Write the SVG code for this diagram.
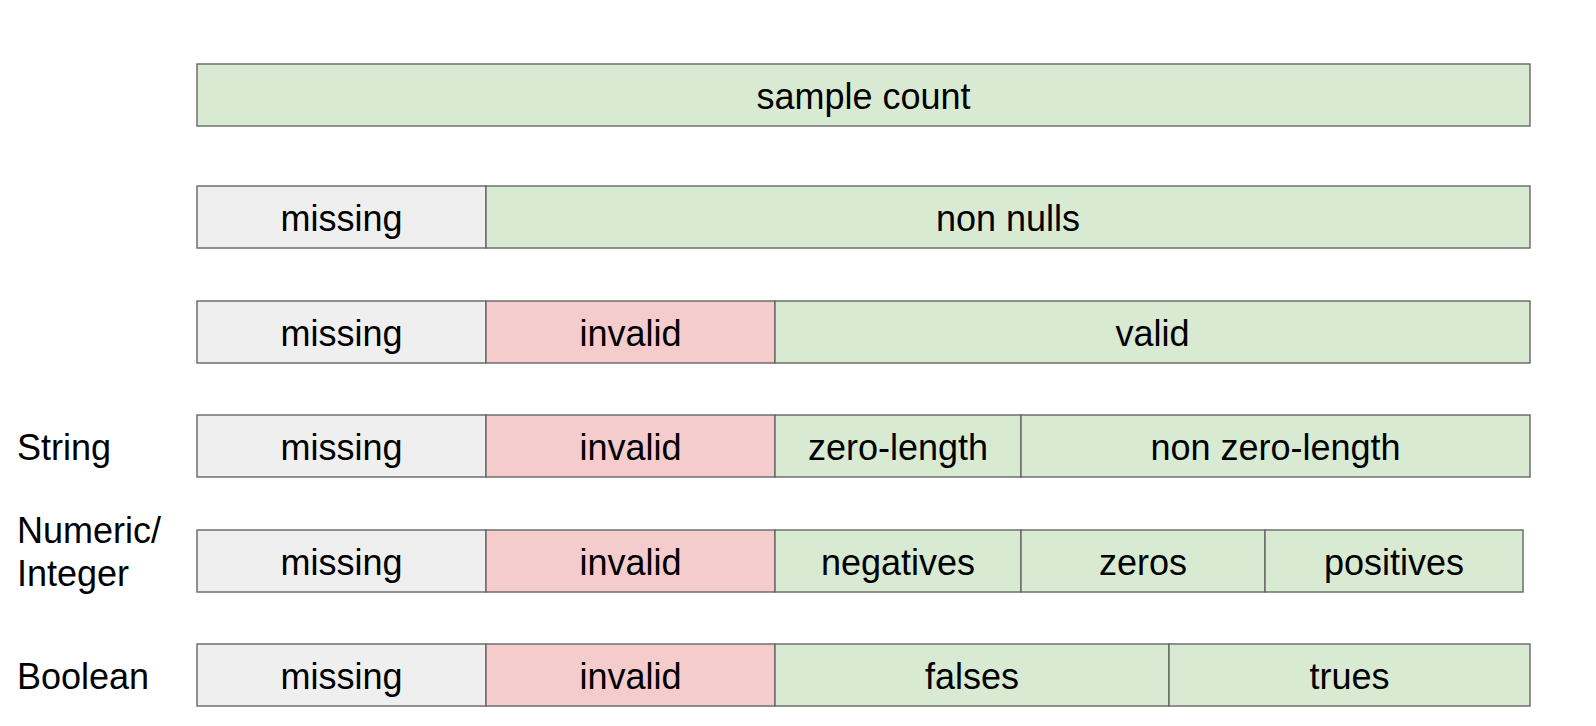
<svg xmlns="http://www.w3.org/2000/svg" width="1596" height="726" viewBox="0 0 1596 726">
  <style>
    .cell { stroke: #666666; stroke-width: 1.4; }
    .ok { fill: #d9ead3; }
    .miss { fill: #efefef; }
    .bad { fill: #f4cccc; }
    text { font-family: "Liberation Sans", Arial, sans-serif; font-size: 36px; fill: #000000; }
    .c { text-anchor: middle; }
  </style>
  <rect x="0" y="0" width="1596" height="726" fill="#ffffff"/>

  <!-- row labels -->
  <g id="label-string"><text x="17" y="460">String</text></g>
  <g id="label-numeric"><text x="17" y="543">Numeric/</text><text x="17" y="586">Integer</text></g>
  <g id="label-boolean"><text x="17" y="689">Boolean</text></g>

  <!-- row 1: total -->
  <g id="sample-count"><rect class="cell ok" x="197" y="64" width="1333" height="62"/><text class="c" x="863.5" y="109">sample count</text></g>

  <!-- row 2 -->
  <g id="r2-missing"><rect class="cell miss" x="197" y="186" width="289" height="62"/><text class="c" x="341.5" y="231">missing</text></g>
  <g id="r2-nonnulls"><rect class="cell ok" x="486" y="186" width="1044" height="62"/><text class="c" x="1008" y="231">non nulls</text></g>

  <!-- row 3 -->
  <g id="r3-missing"><rect class="cell miss" x="197" y="301" width="289" height="62"/><text class="c" x="341.5" y="346">missing</text></g>
  <g id="r3-invalid"><rect class="cell bad" x="486" y="301" width="289" height="62"/><text class="c" x="630.5" y="346">invalid</text></g>
  <g id="r3-valid"><rect class="cell ok" x="775" y="301" width="755" height="62"/><text class="c" x="1152.5" y="346">valid</text></g>

  <!-- row 4: String -->
  <g id="str-missing"><rect class="cell miss" x="197" y="415" width="289" height="62"/><text class="c" x="341.5" y="460">missing</text></g>
  <g id="str-invalid"><rect class="cell bad" x="486" y="415" width="289" height="62"/><text class="c" x="630.5" y="460">invalid</text></g>
  <g id="str-zero"><rect class="cell ok" x="775" y="415" width="246" height="62"/><text class="c" x="898" y="460">zero-length</text></g>
  <g id="str-nonzero"><rect class="cell ok" x="1021" y="415" width="509" height="62"/><text class="c" x="1275.5" y="460">non zero-length</text></g>

  <!-- row 5: Numeric / Integer -->
  <g id="num-missing"><rect class="cell miss" x="197" y="530" width="289" height="62"/><text class="c" x="341.5" y="575">missing</text></g>
  <g id="num-invalid"><rect class="cell bad" x="486" y="530" width="289" height="62"/><text class="c" x="630.5" y="575">invalid</text></g>
  <g id="num-negatives"><rect class="cell ok" x="775" y="530" width="246" height="62"/><text class="c" x="898" y="575">negatives</text></g>
  <g id="num-zeros"><rect class="cell ok" x="1021" y="530" width="244" height="62"/><text class="c" x="1143" y="575">zeros</text></g>
  <g id="num-positives"><rect class="cell ok" x="1265" y="530" width="258" height="62"/><text class="c" x="1394" y="575">positives</text></g>

  <!-- row 6: Boolean -->
  <g id="bool-missing"><rect class="cell miss" x="197" y="644" width="289" height="62"/><text class="c" x="341.5" y="689">missing</text></g>
  <g id="bool-invalid"><rect class="cell bad" x="486" y="644" width="289" height="62"/><text class="c" x="630.5" y="689">invalid</text></g>
  <g id="bool-falses"><rect class="cell ok" x="775" y="644" width="394" height="62"/><text class="c" x="972" y="689">falses</text></g>
  <g id="bool-trues"><rect class="cell ok" x="1169" y="644" width="361" height="62"/><text class="c" x="1349.5" y="689">trues</text></g>

  <!-- no connectors in this chart -->
  <g id="connectors"/>
</svg>
